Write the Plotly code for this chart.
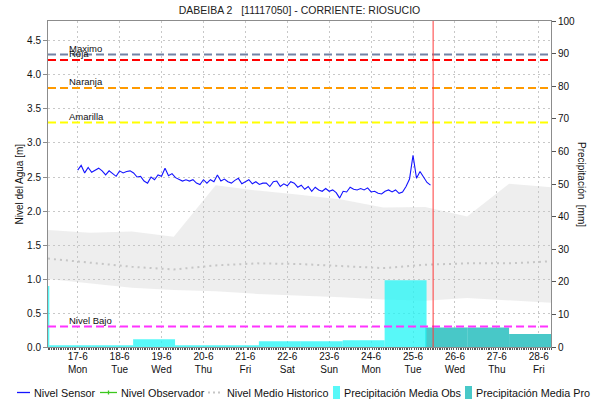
import pandas as pd
import plotly.graph_objects as go

# ---------------- data ----------------
title_text = "DABEIBA 2   [11117050] - CORRIENTE: RIOSUCIO"

sensor_start = "2024-06-17 00:00"
sensor_step = "2h"
sensor_level = [
    2.60, 2.67, 2.56, 2.64, 2.57, 2.60, 2.63, 2.59, 2.53, 2.59, 2.55, 2.51,  # 17-6
    2.59, 2.56, 2.58, 2.59, 2.56, 2.50, 2.51, 2.44, 2.41, 2.50, 2.46, 2.53,  # 18-6
    2.51, 2.63, 2.52, 2.55, 2.49, 2.47, 2.44, 2.46, 2.44, 2.46, 2.41, 2.39,  # 19-6
    2.46, 2.41, 2.46, 2.43, 2.53, 2.44, 2.47, 2.43, 2.41, 2.45, 2.48, 2.40,  # 20-6
    2.43, 2.46, 2.40, 2.43, 2.39, 2.41, 2.41, 2.36, 2.43, 2.44, 2.36, 2.40,  # 21-6
    2.37, 2.43, 2.41, 2.35, 2.38, 2.32, 2.36, 2.29, 2.35, 2.31, 2.29, 2.33,  # 22-6
    2.29, 2.31, 2.27, 2.19, 2.29, 2.28, 2.35, 2.32, 2.31, 2.33, 2.31, 2.34,  # 23-6
    2.28, 2.29, 2.26, 2.25, 2.29, 2.31, 2.28, 2.31, 2.26, 2.28, 2.36, 2.47,  # 24-6
    2.82, 2.48, 2.58, 2.49, 2.42, 2.38,                                      # 25-6
]

observer_dates = []
observer_level = []

hist_dates = ["2024-06-16 07:00", "2024-06-17 07:00", "2024-06-18 07:00", "2024-06-19 07:00",
              "2024-06-20 07:00", "2024-06-21 07:00", "2024-06-22 07:00", "2024-06-23 07:00",
              "2024-06-24 07:00", "2024-06-25 07:00", "2024-06-26 07:00", "2024-06-27 07:00",
              "2024-06-28 07:00"]
hist_upper = [1.72, 1.68, 1.70, 1.62, 2.38, 2.30, 2.24, 2.17, 2.05, 2.06, 1.92, 2.40, 2.35]
hist_lower = [1.00, 0.93, 0.87, 0.84, 0.82, 0.78, 0.76, 0.73, 0.70, 0.68, 0.72, 0.68, 0.65]
hist_median = [1.30, 1.24, 1.18, 1.14, 1.20, 1.23, 1.22, 1.19, 1.16, 1.21, 1.23, 1.23, 1.26]

precip_obs_start = ["2024-06-15 07:45", "2024-06-16 07:45", "2024-06-17 07:45", "2024-06-18 07:45",
                    "2024-06-19 07:45", "2024-06-20 07:45", "2024-06-21 07:45", "2024-06-22 07:45",
                    "2024-06-23 07:45", "2024-06-24 07:45"]
precip_obs = [18.7, 0.5, 0.5, 2.4, 0.5, 0.5, 1.8, 1.8, 2.1, 20.5]

precip_pro_start = ["2024-06-25 07:00", "2024-06-26 07:00", "2024-06-27 07:00"]
precip_pro = [6.0, 6.0, 4.0]

threshold_names = ["Maximo", "Roja", "Naranja", "Amarilla", "Nivel Bajo"]
threshold_values = [4.30, 4.22, 3.81, 3.30, 0.30]
threshold_colors = ["#7282A6", "#FF0000", "#FF9A00", "#FFFF00", "#FF33FF"]

now_time = "2024-06-25 11:30"
x_range = ["2024-06-16 07:00", "2024-06-28 07:00"]

# ---------------- geometry helpers ----------------
W, H = 594, 405
L, R, T, B = 48, 43, 21, 58
PW, PH = W - L - R, H - T - B


def px2x(px):
    return (px - L) / PW


def py2y(py):
    return (H - B - py) / PH


FONT = "Liberation Sans, Arial, sans-serif"
CYAN = "rgba(30,245,245,0.74)"
TEAL = "#48C8C8"

sensor_x = pd.date_range(sensor_start, periods=len(sensor_level), freq=sensor_step)
hist_x = pd.to_datetime(hist_dates)
day_ms = 86400000
obs_x = pd.to_datetime(precip_obs_start) + pd.Timedelta(hours=12)
pro_x = pd.to_datetime(precip_pro_start) + pd.Timedelta(hours=12)

fig = go.Figure()

fig.add_trace(go.Scatter(x=hist_x, y=hist_lower, mode="lines", line=dict(width=0),
                         hoverinfo="skip", showlegend=False))
fig.add_trace(go.Scatter(x=hist_x, y=hist_upper, mode="lines", line=dict(width=0),
                         fill="tonexty", fillcolor="rgba(200,200,200,0.30)",
                         hoverinfo="skip", showlegend=False))
fig.add_trace(go.Scatter(x=hist_x, y=hist_median, mode="lines", name="Nivel Medio Historico",
                         line=dict(color="#C6C6C6", width=2, dash="2px,4px")))
fig.add_trace(go.Scatter(x=sensor_x, y=sensor_level, mode="lines", name="Nivel Sensor",
                         line=dict(color="#1414FF", width=1.1)))
fig.add_trace(go.Scatter(x=pd.to_datetime(observer_dates), y=observer_level, mode="lines+markers",
                         name="Nivel Observador", line=dict(color="#3CC81E", width=1)))
fig.add_trace(go.Bar(x=pro_x, y=precip_pro, width=day_ms, yaxis="y2",
                     name="Precipitación Media Pro", marker=dict(color=TEAL, line=dict(width=0))))
fig.add_trace(go.Bar(x=obs_x, y=precip_obs, width=day_ms, yaxis="y2",
                     name="Precipitación Media Obs", marker=dict(color=CYAN, line=dict(width=0))))

shapes = []
annotations = []

for name, val, col in zip(threshold_names, threshold_values, threshold_colors):
    shapes.append(dict(type="line", xref="paper", x0=0, x1=1, yref="y", y0=val, y1=val,
                       line=dict(color=col, width=2, dash="8px,4px"), layer="above"))
    annotations.append(dict(text=name, xref="paper", x=px2x(67), yref="y", y=val,
                            xanchor="left", yanchor="bottom", yshift=-1, showarrow=False,
                            font=dict(family=FONT, size=9.5, color="#111")))

shapes.append(dict(type="line", xref="x", x0=now_time, x1=now_time, yref="paper", y0=0, y1=1,
                   line=dict(color="#FF3A3A", width=1), layer="above"))

# axis titles
annotations.append(dict(text="Nivel del Agua [m]", xref="paper", x=px2x(18.5), yref="paper", y=0.5,
                        textangle=-90, showarrow=False, xanchor="center", yanchor="middle",
                        font=dict(family=FONT, size=10, color="#111")))
annotations.append(dict(text="Precipitación  [mm]", xref="paper", x=px2x(582), yref="paper", y=0.5,
                        textangle=90, showarrow=False, xanchor="center", yanchor="middle",
                        font=dict(family=FONT, size=10, color="#111")))

# custom legend
LY = 392.5
legend_items = [
    ("line", 17, 30, "#1414FF", "Nivel Sensor", 32),
    ("marker", 100, 117, "#3CC81E", "Nivel Observador", 119),
    ("dot", 208, 222, "#C6C6C6", "Nivel Medio Historico", 225),
    ("box", 333, 340, CYAN, "Precipitación Media Obs", 342),
    ("box", 465, 472, TEAL, "Precipitación Media Pro", 474),
]
for kind, a, b, col, label, tx in legend_items:
    if kind == "box":
        shapes.append(dict(type="rect", xref="paper", yref="paper", x0=px2x(a), x1=px2x(b),
                           y0=py2y(386), y1=py2y(399), fillcolor=col, line=dict(width=0)))
    else:
        dash = "2px,3px" if kind == "dot" else "solid"
        width = 2 if kind == "dot" else 1.3
        shapes.append(dict(type="line", xref="paper", yref="paper", x0=px2x(a), x1=px2x(b),
                           y0=py2y(LY), y1=py2y(LY), line=dict(color=col, width=width, dash=dash)))
        if kind == "marker":
            m = (a + b) / 2
            shapes.append(dict(type="line", xref="paper", yref="paper", x0=px2x(m), x1=px2x(m),
                               y0=py2y(LY - 2), y1=py2y(LY + 2), line=dict(color=col, width=1.3)))
    annotations.append(dict(text=label, xref="paper", yref="paper", x=px2x(tx), y=py2y(LY),
                            xanchor="left", yanchor="middle", showarrow=False,
                            font=dict(family=FONT, size=10.8, color="#111")))

grid = "#C8C8C8"
axis_line = "#8C8C8C"

fig.update_layout(
    width=W, height=H, autosize=False,
    margin=dict(l=L, r=R, t=T, b=B, pad=0),
    paper_bgcolor="white", plot_bgcolor="white",
    showlegend=False,
    barmode="overlay",
    font=dict(family=FONT, size=10, color="#111"),
    title=dict(text=title_text, x=0.5, xref="paper", xanchor="center",
               y=1 - 10 / H, yref="container", yanchor="middle",
               font=dict(family=FONT, size=10.5, color="#222")),
    xaxis=dict(type="date", range=x_range, tick0="2024-06-17", dtick=day_ms,
               tickformat="%-d-%-m<br>%a", showgrid=True, gridcolor=grid, griddash="2px,3px",
               gridwidth=1, showline=True, linecolor=axis_line, linewidth=1, mirror=True,
               ticks="", zeroline=False, tickfont=dict(family=FONT, size=10, color="#111"),
               minor=dict(dtick=3600000, ticks="outside", ticklen=2, tickcolor="#555",
                          tickwidth=1, showgrid=False)),
    yaxis=dict(range=[0, 4.794], tickvals=[0, 0.5, 1, 1.5, 2, 2.5, 3, 3.5, 4, 4.5],
               tickformat=".1f", showgrid=True, gridcolor=grid, griddash="2px,3px", gridwidth=1,
               showline=True, linecolor=axis_line, linewidth=1, mirror=True,
               ticks="outside", ticklen=4, tickcolor=axis_line, zeroline=False,
               tickfont=dict(family=FONT, size=10, color="#111")),
    yaxis2=dict(overlaying="y", side="right", range=[0, 100], dtick=10,
                showgrid=False, showline=True, linecolor=axis_line, linewidth=1,
                ticks="outside", ticklen=4, tickcolor="#555", zeroline=False,
                tickfont=dict(family=FONT, size=10, color="#111")),
    shapes=shapes,
    annotations=annotations,
)

fig.write_html("out.html", config={"displayModeBar": False},
               post_script="document.body.style.margin='0';document.body.style.padding='0';")
